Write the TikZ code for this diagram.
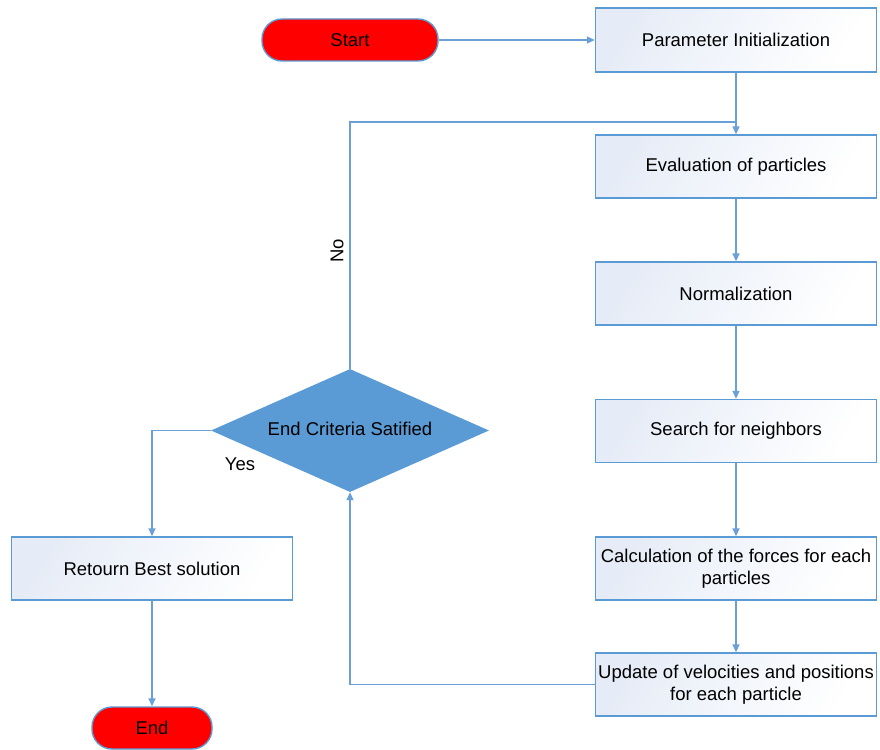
\documentclass[tikz,border=0pt]{standalone}
\usepackage{fontspec}
\setmainfont{Liberation Sans}
\usetikzlibrary{shapes.geometric,arrows.meta}
\definecolor{obl}{HTML}{5B9BD5}
\definecolor{lin}{HTML}{6A9FD8}
\definecolor{boxl}{HTML}{E6ECF7}
\tikzset{
  txt/.style={font=\fontsize{18.5}{22}\selectfont},
  procbox/.style={txt, draw=obl, line width=1.4pt, left color=boxl, right color=white, shading angle=60,
    minimum width=281pt, minimum height=63pt, inner sep=0pt, align=center},
  pill/.style={txt, draw=obl, line width=1.4pt, fill=red, rounded corners=20pt,
    minimum width=176pt, minimum height=42pt, inner sep=0pt},
  conn/.style={draw=lin, line width=1.5pt},
  arr/.style={conn, -{Triangle[length=8pt,width=7pt]}},
  lbl/.style={txt, inner sep=0pt}
}
\begin{document}
\begin{tikzpicture}[x=1pt,y=-1pt]
\useasboundingbox (0,0) rectangle (880,749);
\node[pill] (start) at (350,40) {Start};
\node[procbox, minimum height=64pt] (param) at (736,40) {Parameter Initialization};
\node[procbox] (eval) at (736,166.5) {Evaluation of particles};
\node[procbox] (norm) at (736,293.5) {Normalization};
\node[procbox] (search) at (736,431) {Search for neighbors};
\node[procbox] (calc) at (736,568.5) {Calculation of the forces for each\\particles};
\node[procbox] (update) at (736,684.5) {Update of velocities and positions\\for each particle};
\node[txt, diamond, fill=obl, minimum width=278pt, minimum height=123pt, aspect=2.26, inner sep=0pt]
  (dia) at (350,430.5) {\raisebox{3pt}{End Criteria Satified}};
\node[procbox] (ret) at (152,568.5) {Retourn Best solution};
\node[pill, minimum width=120pt, rounded corners=20pt] (end) at (152,728) {End};
\coordinate (j) at (736,122);
\node[lbl] (yes) at (240,464) {Yes};
\node[lbl, rotate=90] (no) at (337,251) {No};

\draw[arr] (start) -- (param);
\draw[conn] (dia.north) |- (j);
\draw[arr] (param) -- (eval);
\draw[arr] (eval) -- (norm);
\draw[arr] (norm) -- (search);
\draw[arr] (search) -- (calc);
\draw[arr] (calc) -- (update);
\draw[arr] (update.west) -| (dia.south);
\draw[arr] (dia.west) -| (ret.north);
\draw[arr] (ret) -- (end);
\end{tikzpicture}
\end{document}
